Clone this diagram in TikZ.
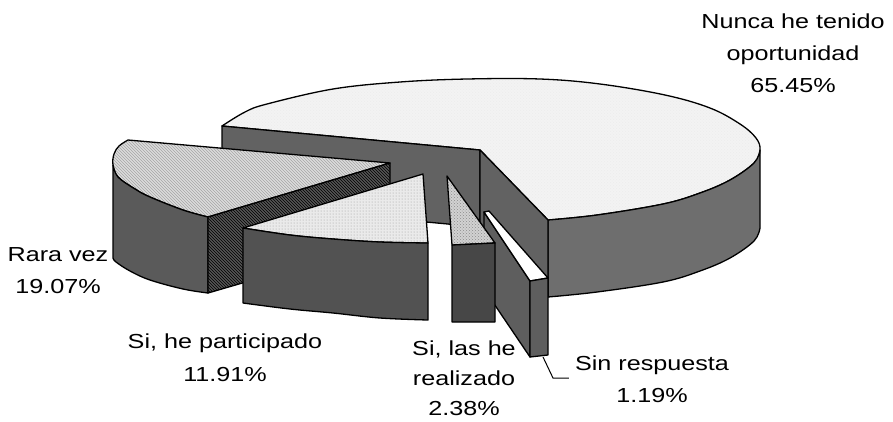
\documentclass[tikz,border=0pt]{standalone}
\usepackage{fontspec}
\setmainfont{Liberation Sans}[FakeStretch=1.24]
\usetikzlibrary{patterns}
\definecolor{bigtop}{HTML}{F3F3F3}
\definecolor{bigrim}{HTML}{6E6E6E}
\definecolor{band}{HTML}{626262}
\definecolor{rvtop}{HTML}{DCDCDC}
\definecolor{rvrim}{HTML}{5A5A5A}
\definecolor{rvcut}{HTML}{555555}
\definecolor{sptop}{HTML}{EAEAEA}
\definecolor{sprim}{HTML}{525252}
\definecolor{sltop}{HTML}{D2D2D2}
\definecolor{slrim}{HTML}{474747}
\definecolor{srface}{HTML}{5E5E5E}
\begin{document}
\begin{tikzpicture}[x=1pt,y=-1pt,
  face/.style={draw=black, line width=1.3pt, line join=round},
  lab/.style={font=\fontsize{20.3}{32}\selectfont, align=center, anchor=base, inner sep=6pt},
  leader/.style={draw=black, line width=1pt}]
\useasboundingbox (0,0) rectangle (893,421);
\fill[white] (0,0) rectangle (893,421);

% ---- big slice: Nunca he tenido oportunidad
\path[face, preaction={fill=bigtop}, pattern=crosshatch dots, pattern color=gray!15]
  (480,150) -- (222,126) -- plot[smooth,tension=0.6] coordinates {(222,126) (245,112) (267,104) (333,89) (400,82) (467,79) (540,79) (600,84) (665,95) (710,108) (740,124) (756,138) (760,150) (754,163) (730,180) (700,193) (663,204) (597,215) (548,220)} -- cycle;
\filldraw[face, fill=bigrim]
  plot[smooth,tension=0.6] coordinates {(548,220) (597,215) (663,204) (700,193) (730,180) (754,163) (760,150)}
  -- (760,228)
  -- plot[smooth,tension=0.6] coordinates {(760,228) (754,241) (730,258) (700,271) (663,282) (597,292) (548,297)} -- cycle;
\filldraw[face, fill=band] (222,126) -- (480,150) -- (480,227) -- (222,203) -- cycle;
\filldraw[face, fill=band] (480,150) -- (548,220) -- (548,297) -- (480,227) -- cycle;

% ---- Rara vez
\path[face, preaction={fill=rvtop}, pattern=north west lines, pattern color=gray!70]
  (390,163) -- (128,140) -- plot[smooth,tension=0.6] coordinates {(128,140) (119,146) (114,154) (113,165) (118,177) (135,189) (150,197) (183,210) (208,217)} -- cycle;
\filldraw[face, fill=rvrim]
  plot[smooth,tension=0.6] coordinates {(113,165) (118,177) (135,189) (150,197) (183,210) (208,217)}
  -- (208,293)
  -- plot[smooth,tension=0.6] coordinates {(208,293) (183,289) (150,280) (130,271) (116,262) (113,258)} -- cycle;
\path[face, preaction={fill=rvcut}, pattern=north west lines, pattern color=black] (208,217) -- (390,163) -- (390,240) -- (208,293) -- cycle;

% ---- Si, he participado
\path[face, preaction={fill=sptop}, pattern=dots, pattern color=gray!80]
  (423,174) -- (243,228) -- plot[smooth,tension=0.6] coordinates {(243,228) (290,235) (333,239) (380,242) (428,243)} -- cycle;
\filldraw[face, fill=sprim]
  plot[smooth,tension=0.6] coordinates {(243,228) (290,235) (333,239) (380,242) (428,243)}
  -- (428,320)
  -- plot[smooth,tension=0.6] coordinates {(428,320) (380,318) (333,313) (290,309) (243,303)} -- cycle;

% ---- Sin respuesta
\filldraw[face, fill=srface] (484,212) -- (530,281) -- (530,357) -- (484,289) -- cycle;
\filldraw[face, fill=white] (484,212) -- (489,211) -- (548,278) -- (530,281) -- cycle;
\filldraw[face, fill=srface] (530,281) -- (548,278) -- (548,355) -- (530,357) -- cycle;

% ---- Si, las he realizado
\path[face, preaction={fill=sltop}, pattern=crosshatch dots, pattern color=gray!90] (447,176) -- (452,245) -- (495,243) -- cycle;
\filldraw[face, fill=slrim] (452,245) -- (495,243) -- (495,322) -- (452,322) -- cycle;

% ---- labels (anchor = baseline of the last line)
\node[lab] (nunca) at (793,92) {Nunca he tenido\\oportunidad\\65.45\%};
\node[lab] (rara) at (58,293) {Rara vez\\19.07\%};
\node[lab] (sihe) at (225,381) {Si, he participado\\[1pt]11.91\%};
\node[lab] (silas) at (464,415) {Si, las he\\[-2pt]realizado\\[-2pt]2.38\%};
\node[lab] (sinr) at (652,402) {Sin respuesta\\1.19\%};
\coordinate (srtip) at (543,357);
\draw[leader] (srtip) -- (553,378) -- (sinr.west |- 0,378);
\end{tikzpicture}
\end{document}
